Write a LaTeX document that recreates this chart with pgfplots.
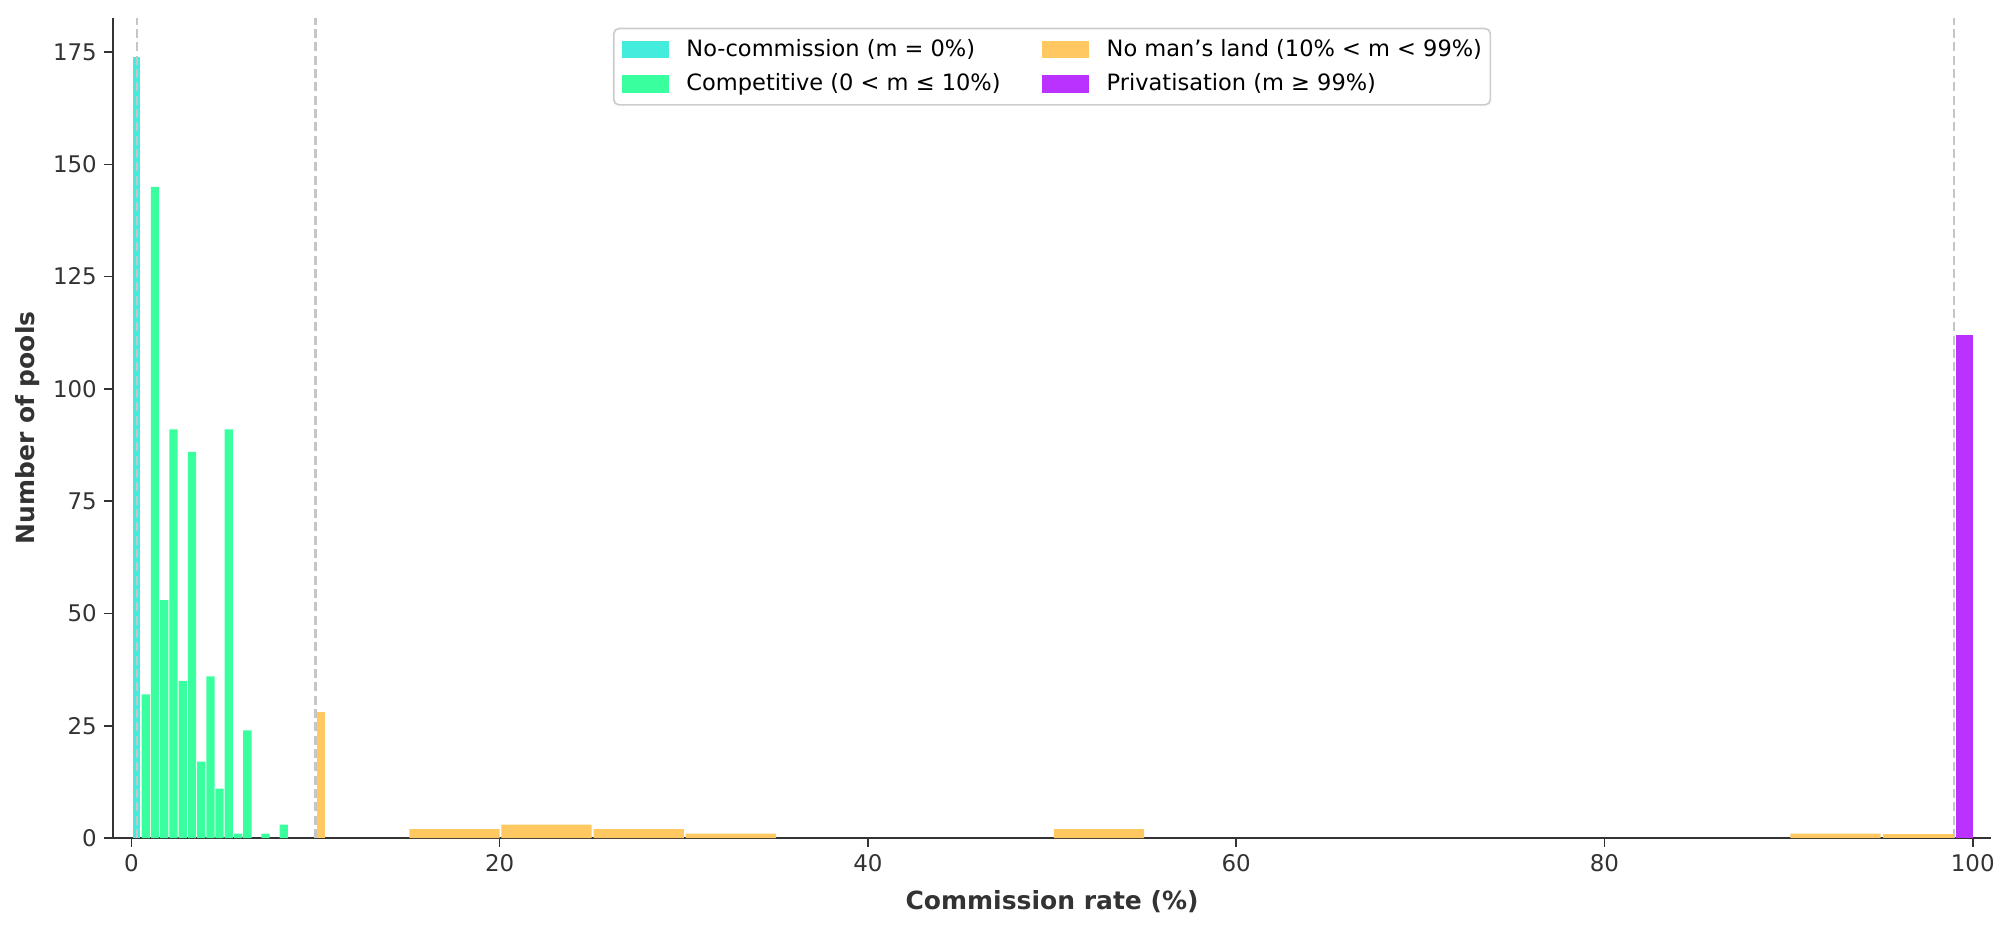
\documentclass[border=0pt]{standalone}
\usepackage{pgfplots}
\pgfplotsset{compat=1.18}
\usepackage{fontspec}
\setmainfont{DejaVu Sans}
\definecolor{cyanc}{RGB}{68,236,222}
\definecolor{greenc}{RGB}{58,255,158}
\definecolor{orangec}{RGB}{255,200,96}
\definecolor{purplec}{RGB}{185,50,255}
\definecolor{txt}{RGB}{51,51,51}
\definecolor{dashc}{RGB}{198,198,198}
\begin{document}
\begin{tikzpicture}
  \useasboundingbox (-54.2pt,-44.6pt) rectangle (911.4pt,402.2pt);
  \begin{axis}[
    at={(0,0)}, anchor=south west,
    scale only axis,
    width=901.4pt, height=393.6pt,
    xmin=-1, xmax=101, ymin=0, ymax=182.6,
    axis lines=left,
    axis line style={txt, line width=0.8pt, -},
    ybar, bar shift=0pt,
    xtick={0,20,40,60,80,100},
    ytick={0,25,50,75,100,125,150,175},
    tick align=outside,
    major tick length=4.2pt,
    tick style={txt, line width=0.8pt},
    /pgf/number format/assume math mode=true,
    ticklabel style={font=\fontsize{11}{13}\selectfont, text=txt},
    xlabel={\textbf{Commission rate (\%)}},
    ylabel={\textbf{Number of pools}},
    label style={font=\fontsize{12}{14}\selectfont, text=txt},
    xlabel style={at={(axis description cs:0.5,0)}, anchor=center, yshift=-30.5pt},
    ylabel style={at={(axis description cs:-0.0453,0.5)}, anchor=center},
    legend columns=2,
    transpose legend,
    legend cell align=left,
    legend style={at={(0.5,0.988)}, anchor=north, draw={rgb,255:red,204;green,204;blue,204},
      line width=0.8pt, rounded corners=2.5pt, font=\fontsize{10.8}{13}\selectfont,
      nodes={inner xsep=0pt, inner ysep=1pt},
      /tikz/every odd column/.append style={column sep=8.3pt},
      /tikz/every even column/.append style={column sep=20pt},
      row sep=4.8pt, inner xsep=4pt, inner ysep=4.2pt},
    legend image code/.code={
      \fill[#1, sharp corners, draw=none] (0pt,-4.3pt) rectangle (22.6pt,4.3pt);},
  ]
    % no-commission bin
    \addplot[fill=cyanc, draw=none, bar width=0.38] coordinates {(0.28,174)};
    \addlegendentry{No-commission (m = 0\%)}
    % competitive bins
    \addplot[fill=greenc, draw=none, bar width=0.45] coordinates {
      (0.78,32) (1.29,145) (1.79,53) (2.29,91) (2.79,35) (3.29,86) (3.8,17)
      (4.3,36) (4.79,11) (5.29,91) (5.8,1) (6.3,24) (7.29,1) (8.28,3)};
    \addlegendentry{Competitive (0 < m ≤ 10\%)}
    % no man's land
    \addplot[fill=orangec, draw=none, bar width=4.9] coordinates {
      (17.55,2) (22.55,3) (27.55,2) (32.55,1) (52.55,2) (92.55,1)};
    \addlegendentry{No man's land (10\% < m < 99\%)}
    \addplot[fill=purplec, draw=none, bar width=0.9] coordinates {(99.55,112)};
    \addlegendentry{Privatisation (m ≥ 99\%)}
    \addplot[forget plot, fill=orangec, draw=none, bar width=0.4] coordinates {(10.3,28)};
    \addplot[forget plot, fill=orangec, draw=none, bar width=3.9] coordinates {(97.05,1)};
    % thresholds
    \addplot[forget plot, sharp plot, dashc, dash pattern=on 4.3pt off 2.1pt, line width=1pt] coordinates {(0.3,0) (0.3,182.6)};
    \addplot[forget plot, sharp plot, dashc, dash pattern=on 4.3pt off 2.1pt, line width=1pt] coordinates {(10,0) (10,182.6)};
    \addplot[forget plot, sharp plot, dashc, dash pattern=on 4.3pt off 2.1pt, line width=1pt] coordinates {(99,0) (99,182.6)};
  \end{axis}
\end{tikzpicture}
\end{document}
